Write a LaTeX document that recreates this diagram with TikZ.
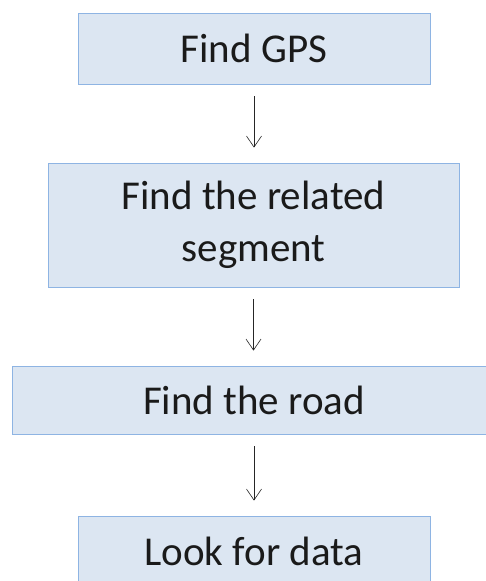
\documentclass[tikz,border=0pt]{standalone}
\usepackage{fontspec}
\setmainfont{Carlito}
\usetikzlibrary{arrows.meta}
\definecolor{boxfill}{HTML}{DCE6F2}
\definecolor{boxline}{HTML}{8EB4E3}
\definecolor{txt}{HTML}{1A1A1A}
\tikzset{
  stepbox/.style={rectangle, fill=boxfill, draw=boxline, line width=0.8pt, inner sep=0pt,
    text=txt, font=\fontsize{41}{52}\selectfont, align=center},
  flow/.style={draw=black!85, line width=0.6pt, -{Straight Barb[length=11pt,width=15pt]},
    shorten <=12pt, shorten >=15pt}
}
\begin{document}
\begin{tikzpicture}[x=1pt,y=-1pt]
\clip (0,0) rectangle (486,581);
\fill[white] (0,0) rectangle (486,581);
\node[stepbox, minimum width=352pt, minimum height=71pt] (gps) at (254,48.5) {Find GPS};
\node[stepbox, minimum width=411pt, minimum height=124pt] (seg) at (253.5,225) {Find the related\\segment};
\node[stepbox, minimum width=484pt, minimum height=68pt] (road) at (254,400) {Find the road};
\node[stepbox, minimum width=352pt, minimum height=71pt] (data) at (254,551.5) {Look for data};
\draw[flow] (gps.south) -- (gps.south |- seg.north);
\draw[flow] (seg.south) -- (seg.south |- road.north);
\draw[flow] (road.south) -- (road.south |- data.north);
\end{tikzpicture}
\end{document}
